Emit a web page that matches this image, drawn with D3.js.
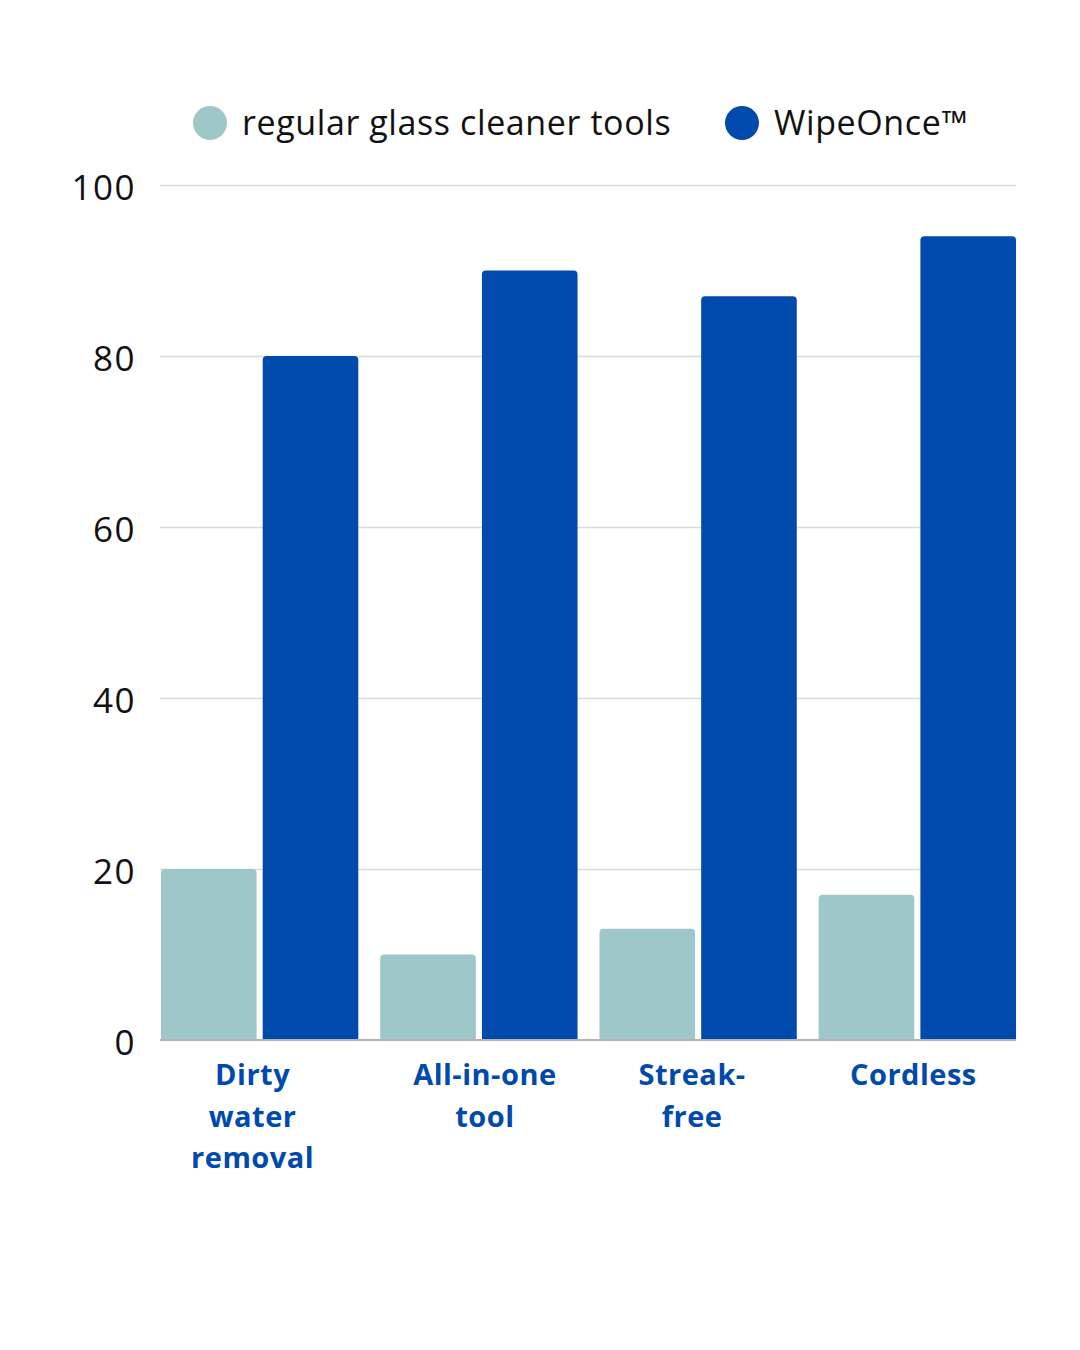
<!DOCTYPE html>
<html>
<head>
<meta charset="utf-8">
<script src="https://cdn.jsdelivr.net/npm/d3@7"></script>
<style>
  html, body { margin: 0; padding: 0; background: #fff; }
  #chart { width: 1080px; height: 1350px; }
  text { font-family: "Open Sans", "Noto Sans", sans-serif; }
</style>
</head>
<body>
<div id="chart"></div>
<script>
var categories = ["Dirty water removal", "All-in-one tool", "Streak-free", "Cordless"];
var categoryLines = [["Dirty", "water", "removal"], ["All-in-one", "tool"], ["Streak-", "free"], ["Cordless"]];
var seriesNames = ["regular glass cleaner tools", "WipeOnce™"];
var regularValues = [20, 10, 13, 17];
var wipeOnceValues = [80, 90, 87, 94];
var yTicks = [0, 20, 40, 60, 80, 100];
var colors = ["#9dc7c8", "#004aad"];

var w = 1080, h = 1350;
var margin = {top: 185, right: 64, bottom: 310, left: 161};

var svg = d3.select("#chart").append("svg")
  .attr("width", w)
  .attr("height", h);

var xScale = d3.scaleBand()
  .domain(categories)
  .range([margin.left, w - margin.right])
  .paddingInner(0.1)
  .paddingOuter(0);

var subScale = d3.scaleBand()
  .domain(seriesNames)
  .range([0, xScale.bandwidth()])
  .paddingInner(0.06);

var yScale = d3.scaleLinear()
  .domain([0, 100])
  .range([h - margin.bottom, margin.top]);

// gridlines + y labels
var yAxis = g => g
  .attr("transform", `translate(${margin.left - 1}, 0)`)
  .call(d3.axisLeft(yScale).tickValues(yTicks).tickSize(-(w - margin.right - margin.left + 1)).tickPadding(24))
  .call(g => g.select(".domain").remove())
  .call(g => g.selectAll(".tick line").attr("stroke", "#dcdcdc").attr("stroke-width", 1.5))
  .call(g => g.selectAll(".tick text")
    .attr("fill", "#111")
    .attr("font-size", 35)
    .attr("letter-spacing", 1.5)
    .attr("dy", "0.4em")
    .attr("font-family", "\"Open Sans\", sans-serif"));

svg.append("g").attr("class", "yaxis").call(yAxis);

// bars
var rows = categories.map((c, i) => ({cat: c, vals: [regularValues[i], wipeOnceValues[i]]}));

var barPath = function(x, y, bw, bh, r) {
  return `M${x},${y + bh}V${y + r}Q${x},${y} ${x + r},${y}H${x + bw - r}Q${x + bw},${y} ${x + bw},${y + r}V${y + bh}Z`;
};

var groups = svg.append("g").attr("class", "bars")
  .selectAll("g")
  .data(rows)
  .enter()
    .append("g")
    .attr("transform", d => `translate(${xScale(d.cat)}, 0)`);

groups.selectAll("path")
  .data(d => d.vals.map((v, k) => ({name: seriesNames[k], value: v, k: k})))
  .enter()
    .append("path")
    .attr("fill", d => colors[d.k])
    .attr("d", d => barPath(subScale(d.name), yScale(d.value), subScale.bandwidth(), yScale(0) - yScale(d.value), 4));

// bottom axis line
svg.append("line")
  .attr("x1", margin.left - 1)
  .attr("x2", w - margin.right)
  .attr("y1", yScale(0))
  .attr("y2", yScale(0))
  .attr("stroke", "#b4b4b4")
  .attr("stroke-width", 2);

// category labels
var labelOffsets = [-7, 6, -6, -4];
var xLabels = svg.append("g").attr("class", "xlabels")
  .selectAll("text")
  .data(categories)
  .enter()
    .append("text")
    .attr("text-anchor", "middle")
    .attr("fill", "#004aad")
    .attr("font-size", 29)
    .attr("letter-spacing", 0.5)
    .attr("font-weight", "bold")
    .attr("x", (d, i) => xScale(d) + xScale.bandwidth() / 2 + labelOffsets[i])
    .attr("y", yScale(0) + 45);

xLabels.selectAll("tspan")
  .data((d, i) => categoryLines[i])
  .enter()
    .append("tspan")
    .attr("x", function() { return d3.select(this.parentNode).attr("x"); })
    .attr("dy", (d, j) => j === 0 ? 0 : 41.5)
    .text(d => d);

// legend
var legendX = [210, 742];
var legend = svg.append("g").attr("class", "legend")
  .selectAll("g")
  .data(seriesNames)
  .enter()
    .append("g")
    .attr("transform", (d, i) => `translate(${legendX[i]}, 123)`);

legend.append("circle")
  .attr("r", 17)
  .attr("fill", (d, i) => colors[i]);

legend.append("text")
  .attr("x", 32)
  .attr("y", 12)
  .attr("font-size", 34)
  .attr("letter-spacing", 0.6)
  .attr("fill", "#111")
  .text(d => d);
</script>
</body>
</html>
